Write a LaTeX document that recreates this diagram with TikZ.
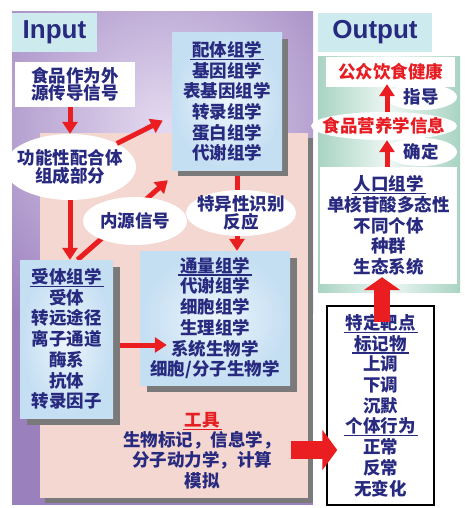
\documentclass[tikz,border=0pt]{standalone}
\usepackage{fontspec}
\setmainfont{Noto Sans CJK SC}
\newfontfamily\latb{Liberation Sans}
\usetikzlibrary{arrows.meta,calc,shapes.geometric}
\definecolor{navyT}{RGB}{40,42,128}
\definecolor{redT}{RGB}{230,30,36}
\definecolor{arrR}{RGB}{234,30,32}
\definecolor{purpA}{RGB}{155,128,190}
\definecolor{purpL}{RGB}{228,218,240}
\definecolor{pinkB}{RGB}{243,215,208}
\definecolor{shadowG}{RGB}{122,122,122}
\definecolor{blueI}{RGB}{236,245,252}
\definecolor{blueO}{RGB}{196,222,242}
\definecolor{cyanL}{RGB}{205,235,238}
\definecolor{greenA}{RGB}{168,212,195}
\pgfdeclarelayer{back}\pgfdeclarelayer{mid}\pgfdeclarelayer{shad}
\pgfsetlayers{back,mid,shad,main}
\newcommand{\myul}[1]{\setbox0=\hbox{#1}\rlap{\kern-2pt\rule[-3.5pt]{\dimexpr\wd0+4pt\relax}{1.3pt}}\box0}
\begin{document}
\begin{tikzpicture}[x=1pt,y=-1pt,
  txt/.style={font=\bfseries\fontsize{17.5}{20.7}\selectfont,text=navyT,align=center,inner sep=0pt},
  bbox/.style={rectangle,inner sep=0pt,inner color=blueI,outer color=blueO,txt},
  wbox/.style={rectangle,inner sep=0pt,fill=white,txt},
  ell/.style={ellipse,fill=white,inner sep=0pt},
  arr/.style={draw=arrR,line width=5pt,-{Triangle[length=12pt,width=15pt]}},
  lab/.style={rectangle,inner sep=0pt,fill=cyanL,font=\latb\bfseries\fontsize{26}{30}\selectfont,text=navyT}]

\useasboundingbox (0,0) rectangle (465,508);

\begin{pgfonlayer}{back}
  \fill[white] (0,0) rectangle (465,508);
  \fill[purpA] (12,12) rectangle (313,505);
  \begin{scope}
    \clip (12,12) rectangle (313,505);
    \shade[inner color=purpL,outer color=purpA] (165,125) circle (240);
  \end{scope}
  \fill[shadowG] (45,138) rectangle (313,503);
  \node[rectangle,fill=pinkB,minimum width=268,minimum height=365,inner sep=0pt] (toolbg) at (174,315.5) {};
  \node[rectangle,inner sep=0pt,minimum width=142,minimum height=235,left color=greenA,right color=greenA,middle color=greenA!20!white] (outbg) at (389,174.5) {};
\end{pgfonlayer}

% labels
\node[lab,minimum width=85,minimum height=39] (inlab) at (54.5,32.5) {Input};
\node[lab,minimum width=114,minimum height=39] (outlab) at (375,32.5) {Output\hspace{9pt}};

% input side
\node[wbox,minimum width=120,minimum height=45,font=\bfseries\fontsize{17.5}{17}\selectfont] (foodsig) at (75,84.5) {食品作为外\\源传导信号};
\node[bbox,minimum width=110,minimum height=137] (peiti) at (227,101.5)
  {\myul{配体组学}\\基因组学\\表基因组学\\转录组学\\蛋白组学\\代谢组学};
\node[bbox,minimum width=93,minimum height=158] (shouti) at (66.5,339)
  {\myul{受体组学}\\受体\\转远途径\\离子通道\\酶系\\抗体\\转录因子};
\node[bbox,minimum width=150,minimum height=134] (tongliang) at (215,318)
  {\myul{通量组学}\\代谢组学\\细胞组学\\生理组学\\系统生物学\\细胞/分子生物学};

\node[ell,minimum width=132,minimum height=66,
  label={[txt,font=\bfseries\fontsize{17.5}{16.5}\selectfont]center:{功能性配合体\\组成部分}}] (func) at (70,167) {};
\node[ell,minimum width=104,minimum height=48,label={[txt]center:内源信号}] (neiyuan) at (135,221) {};
\node[ell,minimum width=110,minimum height=46,
  label={[txt,font=\bfseries\fontsize{17.5}{18}\selectfont]center:{特异性识别\\反应}}] (teyi) at (241,213) {};

\node[txt,font=\bfseries\fontsize{17.5}{20.3}\selectfont] (tools) at (202,450.5)
  {{\color{redT}\myul{工具}}\\生物标记，信息学，\\分子动力学，计算\\模拟};

% output side
\node[wbox,minimum width=129,minimum height=30,text=redT] (gongzhong) at (390.5,72) {公众饮食健康};
\node[ell,minimum width=72,minimum height=26,label={[txt]center:指导}] (zhidao) at (421,97) {};
\node[ell,minimum width=146,minimum height=28,label={[txt,text=redT]center:食品营养学信息}] (yingyang) at (384,126) {};
\node[ell,minimum width=72,minimum height=28,label={[txt]center:确定}] (queding) at (421,152) {};
\node[wbox,minimum width=137,minimum height=117] (renkou) at (388.5,225.5)
  {\myul{人口组学}\\单核苷酸多态性\\不同个体\\种群\\生态系统};
\node[wbox,draw=black,line width=1.5pt,minimum width=107,minimum height=199] (target) at (380.5,405.5)
  {\myul{特定靶点}\\\myul{标记物}\\上调\\下调\\沉默\\\myul{个体行为}\\正常\\反常\\无变化};

% shadows
\begin{pgfonlayer}{shad}
  \foreach \n/\d in {peiti/6,shouti/7,tongliang/7}
    \fill[shadowG] ($(\n.south west)+(\d,\d)$) rectangle ($(\n.north east)+(\d,\d)$);
\end{pgfonlayer}

% arrows underneath
\begin{pgfonlayer}{mid}
  \draw[arr] ($(shouti.north)+(11,0)$) -- ($(peiti.south west)+(-4,10)$);
  \coordinate (a5) at (237,0);
  \draw[arr] (a5 |- peiti.south) -- (a5 |- tongliang.north);
\end{pgfonlayer}

% arrows on top
\draw[arr] (func.north |- foodsig.south) -- (func.north);
\draw[arr] (func) -- ($(peiti.west)+(-9,19)$);
\draw[arr] (func.south) -- (func.south |- shouti.north);
\coordinate (a6) at (0,345);
\draw[arr] ($(a6 -| shouti.east)+(7,0)$) -- ($(a6 -| tongliang.west)+(27,0)$);

\coordinate (ax) at (387,0);
\draw[arr] (ax |- yingyang.north) -- ($(ax |- gongzhong.south)+(0,-3)$);
\draw[arr] (ax |- renkou.north) -- (ax |- yingyang.south);

\coordinate (bx) at (382,0);
\draw[draw=arrR,line width=16pt,-{Triangle[length=13pt,width=36pt]}]
  ($(bx |- target.north)+(0,17)$) -- ($(bx |- renkou.south)+(0,-7)$);
\coordinate (by) at (0,450);
\draw[draw=arrR,line width=18pt,-{Triangle[length=15pt,width=40pt]}]
  ($(by -| toolbg.east)+(-17,0)$) -- ($(by -| target.west)+(11,0)$);
\end{tikzpicture}
\end{document}
